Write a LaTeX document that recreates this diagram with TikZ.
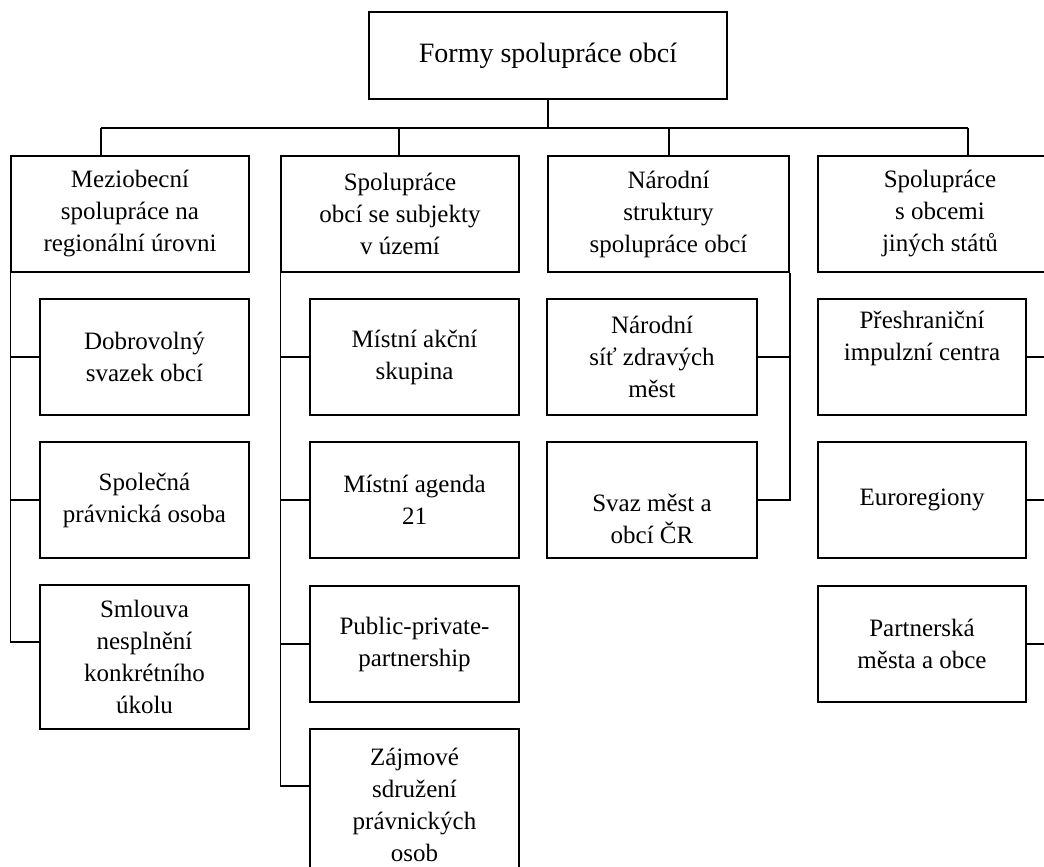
\documentclass[tikz,border=0pt]{standalone}
\usepackage{fontspec}
\setmainfont{Liberation Serif}
\begin{document}
\begin{tikzpicture}[x=1pt,y=-1pt,
  every path/.style={line width=1.5pt},
  box/.style={draw, line width=1.5pt, inner sep=0pt, align=center,
    font=\fontsize{25}{32}\selectfont},
  lone/.style={box, minimum height=116pt},
  kid/.style={box, minimum width=209pt, minimum height=116pt}]
\useasboundingbox (0,0) rectangle (1044,867);
% top
\node[box, minimum width=358pt, minimum height=87pt, font=\fontsize{28}{34}\selectfont] (top) at (548,55.5) {Formy spolupráce obcí};
% level 1
\node[lone, minimum width=238pt] (m1) at (130,214) {Meziobecní\\spolupráce na\\regionální úrovni};
\node[lone, minimum width=238pt] (m2) at (400,214) {Spolupráce\\obcí se subjekty\\v území};
\node[lone, minimum width=241pt] (m3) at (668.5,214) {Národní\\struktury\\spolupráce obcí};
\node[lone, minimum width=244pt] (m4) at (940,214) {Spolupráce\\s obcemi\\jiných států};
% column 1
\node[kid] (c1a) at (144.5,357) {Dobrovolný\\svazek obcí};
\node[kid] (c1b) at (144.5,500) {Společná\\právnická osoba};
\node[kid, minimum height=144pt] (c1c) at (144.5,657) {Smlouva\\nesplnění\\konkrétního\\úkolu};
% column 2
\node[kid] (c2a) at (414.5,357) {Místní akční\\skupina};
\node[kid] (c2b) at (414.5,500) {Místní agenda\\21};
\node[kid] (c2c) at (414.5,644) {Public-private-\\partnership};
\node[kid, minimum height=151pt] (c2d) at (414.5,804.5) {Zájmové\\sdružení\\právnických\\osob};
% column 3
\node[kid, minimum width=210pt] (c3a) at (652,357) {Národní\\síť zdravých\\měst};
\node[kid, minimum width=210pt] (c3b) at (652,500) {\strut\\Svaz měst a\\obcí ČR};
% column 4
\node[kid, minimum width=208pt] (c4a) at (922,357) {Přeshraniční\\impulzní centra\\\strut};
\node[kid, minimum width=208pt] (c4b) at (922,500) {Euroregiony};
\node[kid, minimum width=208pt] (c4c) at (922,644) {Partnerská\\města a obce};
% bus
\coordinate (bus) at (0,128);
\coordinate (d1) at (101,156);
\coordinate (d2) at (399,156);
\coordinate (d3) at (669,156);
\coordinate (d4) at (968,156);
\draw (top.south) -- (top.south |- bus);
\draw (d1 |- bus) -- (d4 |- bus);
\foreach \d in {d1,d2,d3,d4} \draw (\d |- bus) -- (\d);
% column connectors
\draw (m1.south west) |- ([yshift=15pt]c1c.west);
\draw (c1a.west) -- (c1a.west -| m1.west);
\draw (c1b.west) -- (c1b.west -| m1.west);
\draw (m2.south west) |- ([yshift=18.5pt]c2d.west);
\draw (c2a.west) -- (c2a.west -| m2.west);
\draw (c2b.west) -- (c2b.west -| m2.west);
\draw (c2c.west) -- (c2c.west -| m2.west);
\draw (m3.south east) |- (c3b.east);
\draw (c3a.east) -- (c3a.east -| m3.east);
\draw (m4.south east) |- (c4c.east);
\draw (c4a.east) -- (c4a.east -| m4.east);
\draw (c4b.east) -- (c4b.east -| m4.east);
\end{tikzpicture}
\end{document}
